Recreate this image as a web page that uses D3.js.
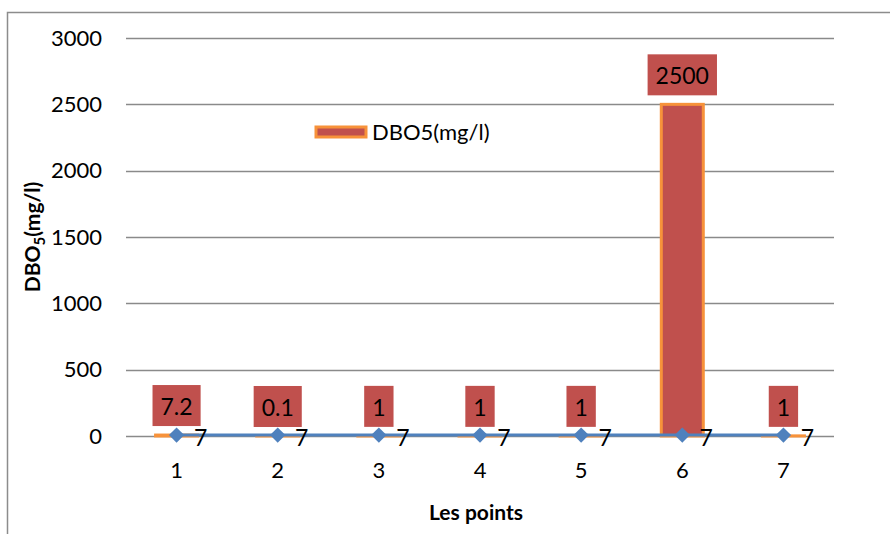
<html>
<head>
<meta charset="utf-8">
<style>
  body { margin: 0; background: #fff; }
  text { font-family: Lato, "Open Sans", sans-serif; }
</style>
</head>
<body>
<script src="https://cdn.jsdelivr.net/npm/d3@7"></script>
<div id="chart"></div>
<script>
// data
var points = ["1", "2", "3", "4", "5", "6", "7"];
var dbo5 = [7.2, 0.1, 1, 1, 1, 2500, 1];
var dbo5Labels = ["7.2", "0.1", "1", "1", "1", "2500", "1"];
var lineValues = [7, 7, 7, 7, 7, 7, 7];
var yTicks = [0, 500, 1000, 1500, 2000, 2500, 3000];

var W = 890, H = 534;
var margin = {top: 38, right: 56, bottom: 98, left: 126};

var svg = d3.select("#chart").append("svg")
  .attr("width", W).attr("height", H);

// outer chart border
svg.append("rect")
  .attr("x", 7.5).attr("y", 12.5)
  .attr("width", 900).attr("height", 540)
  .attr("fill", "none").attr("stroke", "#8c8c8c").attr("stroke-width", 1.5);

var x = d3.scaleBand().domain(points).range([margin.left, W - margin.right]);
var y = d3.scaleLinear().domain([0, 3000]).range([H - margin.bottom, margin.top]);

// gridlines
svg.append("g").selectAll("line").data(yTicks).join("line")
  .attr("x1", margin.left).attr("x2", W - margin.right)
  .attr("y1", d => Math.round(y(d)) + 0.5).attr("y2", d => Math.round(y(d)) + 0.5)
  .attr("stroke", "#8a8a8a").attr("stroke-width", 1.3);

// y tick labels
var yAxis = svg.append("g")
  .attr("transform", "translate(" + margin.left + ",0)")
  .call(d3.axisLeft(y).tickValues(yTicks).tickFormat(d3.format("d")).tickSize(0).tickPadding(24));
yAxis.select(".domain").remove();
yAxis.selectAll("text").attr("font-size", 22).attr("fill", "#000")
  .style("font-family", "Lato, sans-serif");

// x tick labels
var xAxis = svg.append("g")
  .attr("transform", "translate(0," + y(0) + ")")
  .call(d3.axisBottom(x).tickSize(0).tickPadding(26));
xAxis.select(".domain").remove();
xAxis.selectAll("text").attr("font-size", 22).attr("fill", "#000")
  .style("font-family", "Lato, sans-serif");

// bars
var barW = 42;
svg.append("g").selectAll("rect").data(dbo5).join("rect")
  .attr("x", (d, i) => x(points[i]) + x.bandwidth() / 2 - barW / 2)
  .attr("y", d => y(d))
  .attr("width", barW)
  .attr("height", d => Math.max(0, y(0) - y(d)))
  .attr("fill", "#c0504d")
  .attr("stroke", "#f7923a").attr("stroke-width", 3);

// line series
var line = d3.line()
  .x((d, i) => x(points[i]) + x.bandwidth() / 2)
  .y(d => y(d));
svg.append("path").datum(lineValues)
  .attr("d", line).attr("fill", "none")
  .attr("stroke", "#4f81bd").attr("stroke-width", 3);

svg.append("g").selectAll("path").data(lineValues).join("path")
  .attr("d", d3.symbol().type(d3.symbolDiamond2).size(150))
  .attr("transform", (d, i) => "translate(" + (x(points[i]) + x.bandwidth() / 2) + "," + y(d) + ")")
  .attr("fill", "#4f81bd");

svg.append("g").selectAll("text").data(lineValues).join("text")
  .attr("x", (d, i) => x(points[i]) + x.bandwidth() / 2 + 24)
  .attr("y", d => y(d) + 11)
  .attr("text-anchor", "middle")
  .attr("font-size", 23).attr("fill", "#000")
  .text(d => d);

// bar data labels in red boxes
var lab = svg.append("g").selectAll("g").data(dbo5).join("g")
  .attr("transform", (d, i) => "translate(" + (x(points[i]) + x.bandwidth() / 2) + "," + (y(d) - 9) + ")");
lab.append("text")
  .attr("text-anchor", "middle")
  .attr("y", -11)
  .attr("font-size", 23).attr("fill", "#000")
  .text((d, i) => dbo5Labels[i]);
lab.each(function() {
  var g = d3.select(this);
  var bb = g.select("text").node().getBBox();
  g.insert("rect", "text")
    .attr("x", bb.x - 8).attr("y", -41)
    .attr("width", bb.width + 16).attr("height", 41)
    .attr("fill", "#c0504d");
});

// legend
var leg = svg.append("g").attr("transform", "translate(316,132)");
leg.append("rect").attr("x", 0).attr("y", -5).attr("width", 50).attr("height", 10)
  .attr("fill", "#c0504d").attr("stroke", "#f7923a").attr("stroke-width", 3);
leg.append("text").attr("x", 56).attr("y", 8).attr("font-size", 22).attr("fill", "#000")
  .text("DBO5(mg/l)");

// axis titles
svg.append("text")
  .attr("x", 476).attr("y", 520)
  .attr("text-anchor", "middle")
  .attr("font-size", 21).attr("font-weight", "bold").attr("fill", "#000")
  .text("Les points");

var yt = svg.append("text")
  .attr("transform", "translate(40,237) rotate(-90)")
  .attr("text-anchor", "middle")
  .attr("font-size", 21).attr("font-weight", "bold").attr("fill", "#000");
yt.append("tspan").text("DBO");
yt.append("tspan").attr("font-size", 15).attr("dy", 5).text("5");
yt.append("tspan").attr("dy", -5).text("(mg/l)");
</script>
</body>
</html>
